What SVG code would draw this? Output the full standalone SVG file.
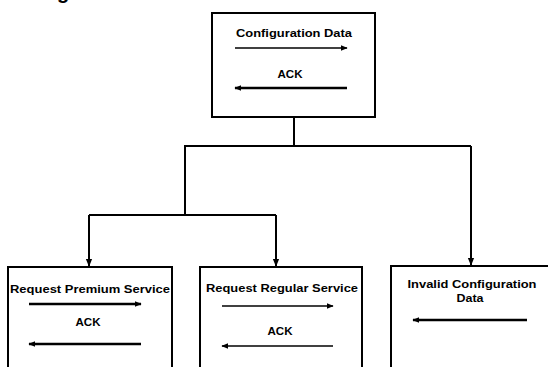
<svg xmlns="http://www.w3.org/2000/svg" width="548" height="367" viewBox="0 0 548 367">
  <style>
    .box { fill: #fff; stroke: #000; stroke-width: 2; }
    .wire { fill: none; stroke: #000; stroke-width: 2; }
    .msg { fill: none; stroke: #000; stroke-width: 1.6; }
    .msg-b { fill: none; stroke: #000; stroke-width: 2.4; }
    .lbl { font-family: "Liberation Sans", Arial, sans-serif; font-weight: bold; font-size: 11.5px; fill: #000; text-anchor: middle; }
  </style>
  <defs>
    <marker id="head" viewBox="0 0 10 10" refX="9" refY="5" markerWidth="7" markerHeight="7" markerUnits="userSpaceOnUse" orient="auto">
      <path d="M0,1 L10,5 L0,9 Z" fill="#000"/>
    </marker>
    <marker id="down" viewBox="0 0 10 10" refX="9" refY="5" markerWidth="8" markerHeight="8" markerUnits="userSpaceOnUse" orient="auto">
      <path d="M0,1 L10,5 L0,9 Z" fill="#000"/>
    </marker>
  </defs>

  <rect width="548" height="367" fill="#fff"/>

  <!-- heading fragment at the top edge -->
  <text x="57" y="-1" font-family="Liberation Sans, Arial, sans-serif" font-weight="bold" font-size="20">g</text>

  <!-- tree connectors -->
  <g id="connectors">
    <path class="wire" d="M294,117 V146"/>
    <path class="wire" d="M184,146 H471"/>
    <path class="wire" d="M185,146 V215"/>
    <path class="wire" d="M89,215 H276"/>
    <path class="wire" d="M89,215 V266" marker-end="url(#down)"/>
    <path class="wire" d="M276,215 V266" marker-end="url(#down)"/>
    <path class="wire" d="M471,146 V265" marker-end="url(#down)"/>
  </g>

  <g id="config">
    <rect class="box" x="212" y="13" width="163" height="104"/>
    <text class="lbl" x="294" y="37" textLength="116" lengthAdjust="spacingAndGlyphs">Configuration Data</text>
    <path class="msg" d="M235,48 H347" marker-end="url(#head)"/>
    <text class="lbl" x="290" y="78" textLength="25" lengthAdjust="spacingAndGlyphs">ACK</text>
    <path class="msg-b" d="M347,88 H235" marker-end="url(#head)"/>
  </g>

  <g id="premium">
    <rect class="box" x="8" y="267" width="164" height="110"/>
    <text class="lbl" x="90" y="293" textLength="160" lengthAdjust="spacingAndGlyphs">Request Premium Service</text>
    <path class="msg-b" d="M29,304 H141" marker-end="url(#head)"/>
    <text class="lbl" x="88" y="326" textLength="25" lengthAdjust="spacingAndGlyphs">ACK</text>
    <path class="msg-b" d="M141,344 H29" marker-end="url(#head)"/>
  </g>

  <g id="regular">
    <rect class="box" x="200" y="267" width="162" height="110"/>
    <text class="lbl" x="282" y="292" textLength="152" lengthAdjust="spacingAndGlyphs">Request Regular Service</text>
    <path class="msg" d="M222,306 H333" marker-end="url(#head)"/>
    <text class="lbl" x="280" y="335" textLength="25" lengthAdjust="spacingAndGlyphs">ACK</text>
    <path class="msg" d="M333,346 H222" marker-end="url(#head)"/>
  </g>

  <g id="invalid">
    <rect class="box" x="391" y="266" width="170" height="111"/>
    <text class="lbl" x="472" y="288" textLength="129" lengthAdjust="spacingAndGlyphs">Invalid Configuration</text>
    <text class="lbl" x="470" y="302" textLength="27" lengthAdjust="spacingAndGlyphs">Data</text>
    <path class="msg-b" d="M527,320 H413" marker-end="url(#head)"/>
  </g>
</svg>
